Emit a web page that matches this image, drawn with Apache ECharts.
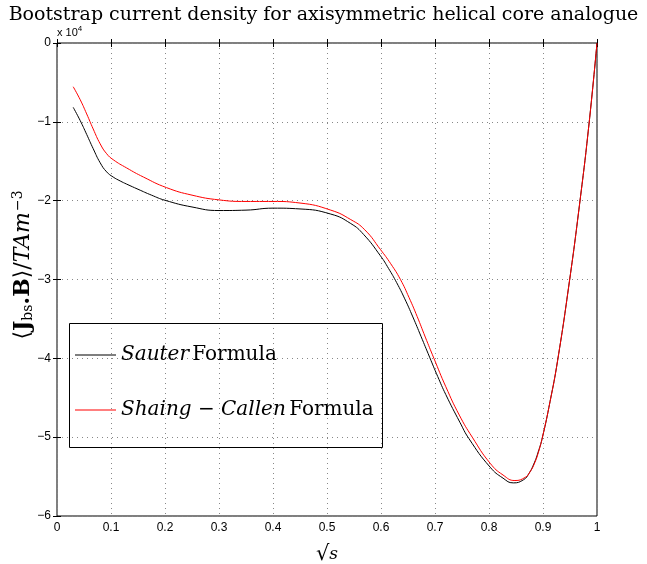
<!DOCTYPE html>
<html><head><meta charset="utf-8">
<script src="https://cdn.jsdelivr.net/npm/echarts@6/dist/echarts.min.js"></script>
<style>html,body{margin:0;padding:0;background:#fff}#c{width:647px;height:564px}</style>
</head><body><div id="c"></div>
<script>
const xSauter = [0.030,0.043,0.055,0.067,0.080,0.092,0.104,0.117,0.129,0.150,0.175,0.2,0.25,0.3,0.35,0.4,0.45,0.507,0.544,0.568,0.599,0.614,0.629,0.644,0.659,0.674,0.690,0.705,0.720,0.746,0.763,0.802,0.826,0.845,0.864,0.874,0.883,0.891,0.899,0.913,0.927,0.949,0.968,0.985,1.0];
const ySauter = [-8160,-9850,-11600,-13400,-15200,-16350,-17000,-17500,-17900,-18550,-19300,-19950,-20800,-21250,-21200,-20950,-21050,-21700,-22900,-24300,-27000,-28600,-30400,-32450,-34750,-37200,-39850,-42300,-44600,-48100,-50200,-53800,-55200,-55800,-55400,-54600,-53400,-51900,-50000,-45500,-40300,-30200,-20300,-10400,0];
const xShaing = [0.030,0.043,0.055,0.067,0.080,0.092,0.104,0.129,0.160,0.203,0.25,0.3,0.35,0.4,0.45,0.507,0.544,0.570,0.599,0.618,0.636,0.652,0.667,0.682,0.698,0.720,0.745,0.769,0.802,0.826,0.848,0.867,0.876,0.885,0.892,0.899,0.913,0.927,0.949,0.968,0.985,1.0];
const yShaing = [-5550,-7200,-9000,-10900,-12800,-14050,-14800,-15850,-17000,-18350,-19300,-19900,-20100,-20100,-20300,-21200,-22400,-23700,-26200,-28000,-30000,-32300,-34700,-37300,-40000,-43600,-47200,-50000,-53300,-54800,-55500,-55100,-54400,-53200,-51800,-50000,-45500,-40300,-30200,-20300,-10400,0];
const xTicks = [0,0.1,0.2,0.3,0.4,0.5,0.6,0.7,0.8,0.9,1];
const yTicks = [0,-1,-2,-3,-4,-5,-6];

const chart = echarts.init(document.getElementById('c'), null, {renderer:'canvas'});
const tickFont = {fontFamily:'Liberation Sans, Arial, sans-serif', fontSize:12, color:'#000'};
const pair = (xa, ya) => xa.map((x,i)=>[x,ya[i]]);
const serif = 'DejaVu Serif, serif';
chart.setOption({
  animation:false,
  title:{text:'Bootstrap current density for axisymmetric helical core analogue', left:'center', top:1,
    textStyle:{fontFamily:serif, fontWeight:'normal', fontSize:19, color:'#000'}},
  grid:{left:57, top:43, width:540, height:473, show:true, borderColor:'#000', borderWidth:1, containLabel:false, outerBoundsMode:'none'},
  xAxis:[{type:'value', min:0, max:1, interval:0.1,
    axisLine:{show:false}, axisTick:{inside:true, length:4, lineStyle:{color:'#000'}},
    axisLabel:Object.assign({margin:6, formatter:v=>{const i=xTicks.findIndex(t=>Math.abs(t-v)<1e-6);return i>=0?String(xTicks[i]):'';}}, tickFont),
    splitLine:{show:true, lineStyle:{type:[1,4], color:'#888'}},
    name:'{r|√}{i|s}', nameLocation:'middle', nameGap:28, nameMoveOverlap:false,
    nameTextStyle:{rich:{r:{fontFamily:serif, fontSize:21, color:'#000'}, i:{fontFamily:serif, fontStyle:'italic', fontSize:17, color:'#000'}}}},
   {type:'value', min:0, max:1, interval:0.1, position:'top', axisLine:{show:false},
    axisTick:{inside:true, length:4, lineStyle:{color:'#000'}}, axisLabel:{show:false}, splitLine:{show:false}}],
  yAxis:[{type:'value', min:-60000, max:0, interval:10000,
    axisLine:{show:false}, axisTick:{inside:true, length:4, lineStyle:{color:'#000'}},
    axisLabel:Object.assign({margin:6, formatter:v=>{const t=Math.round(v/10000);return t===0?'0':'\u2212'+Math.abs(yTicks[-t]);}}, tickFont),
    splitLine:{show:true, lineStyle:{type:[1,4], color:'#888'}},
    name:'{a|⟨}{b|J}{s|bs}{b|.B}{a|⟩/}{i|TAm}{p|−3}', nameLocation:'middle', nameGap:21, nameRotate:90, nameMoveOverlap:false,
    nameTextStyle:{padding:[0,0,0,29], rich:{
      a:{fontFamily:serif, fontSize:22, color:'#000'},
      b:{fontFamily:serif, fontWeight:'bold', fontSize:22, color:'#000'},
      s:{fontFamily:serif, fontSize:14, color:'#000', padding:[9,0,0,0]},
      i:{fontFamily:serif, fontStyle:'italic', fontSize:22, color:'#000'},
      p:{fontFamily:serif, fontSize:14, color:'#000', padding:[0,0,11,1]}}}},
   {type:'value', min:-60000, max:0, interval:10000, position:'right', axisLine:{show:false},
    axisTick:{inside:true, length:4, lineStyle:{color:'#000'}}, axisLabel:{show:false}, splitLine:{show:false}}],
  legend:{orient:'vertical', left:75, top:345, padding:0, itemGap:35, itemWidth:41, itemHeight:1.2, icon:'rect',
    data:[{name:'Sauter'},{name:'Shaing'}],
    formatter:n=> n==='Sauter' ? '{i|Sauter} {r|Formula}' : '{i|Shaing − Callen} {r|Formula}',
    textStyle:{rich:{
      i:{fontFamily:serif, fontStyle:'italic', fontSize:20, color:'#000'},
      r:{fontFamily:serif, fontSize:20, color:'#000'}}}},
  graphic:[
    {type:'rect', left:67, top:321, shape:{width:313, height:124}, style:{fill:'none', stroke:'#000', lineWidth:1}, z:1},
    {type:'text', left:57, top:25, style:{text:'{a|x 10}{b|4}', rich:{a:{fontFamily:'Liberation Sans, Arial, sans-serif', fontSize:11, fill:'#000'}, b:{fontFamily:'Liberation Sans, Arial, sans-serif', fontSize:8, fill:'#000', padding:[0,0,8,0]}}}}
  ],
  series:[
    {name:'Sauter', type:'line', data:pair(xSauter,ySauter), smooth:0.5, symbol:'none', lineStyle:{color:'#000', width:1}, itemStyle:{color:'#000'}},
    {name:'Shaing', type:'line', data:pair(xShaing,yShaing), smooth:0.5, symbol:'none', lineStyle:{color:'#ff0000', width:1}, itemStyle:{color:'#ff0000'}}
  ]
});
</script></body></html>
